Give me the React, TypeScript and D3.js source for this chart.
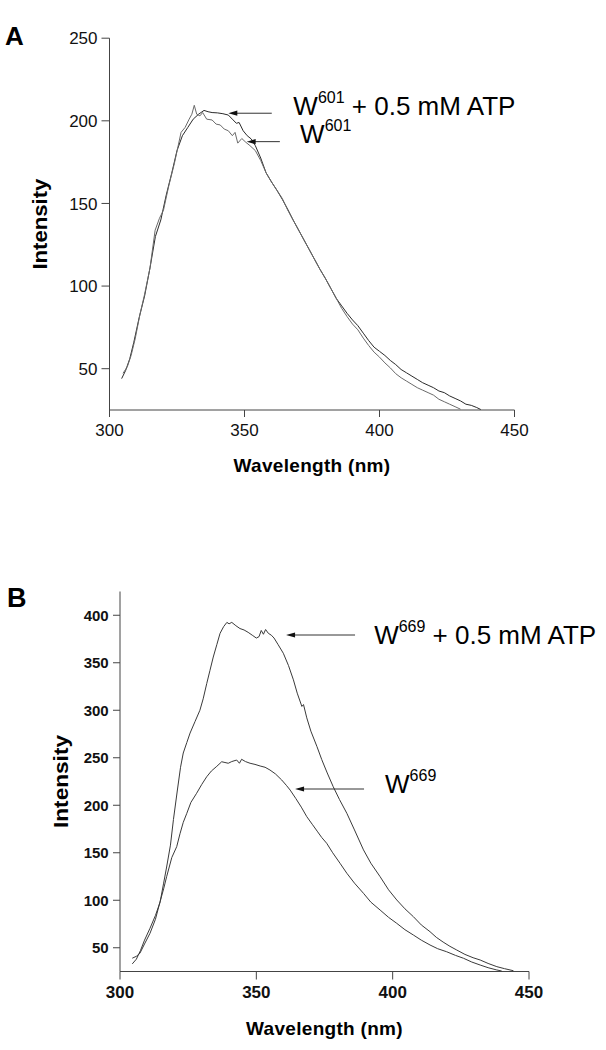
import React from 'react';
import * as d3 from 'd3';

// ---------- data ----------
const xTicks = [300, 350, 400, 450];
const yTicksA = [50, 100, 150, 200, 250];
const yTicksB = [50, 100, 150, 200, 250, 300, 350, 400];

// Panel A: W601 + 0.5 mM ATP
const aAtp: [number, number][] = [
  [304.5, 44], [306, 49], [307.5, 56], [309, 66], [311, 81], [313, 94], [315, 111], [317, 130],
  [319, 140], [321, 155], [323, 168], [325, 182], [327, 191], [329, 196], [331, 201], [333, 204],
  [335, 206.3], [336.5, 205.5], [338, 205], [340, 204.8], [342, 204.3], [344, 203.5], [345.5, 201],
  [347, 198.5], [348, 199], [349.5, 194], [351, 191], [352.5, 189], [354, 185], [356, 177.5],
  [358, 168.5], [360, 163], [362, 158], [364, 152.5], [366, 146.5], [368, 140], [370, 134],
  [372, 128], [374, 122], [376, 116], [378, 110], [380, 104.5], [382, 98.5], [384, 92.5],
  [386, 88], [388, 83.5], [390, 79.5], [392, 76], [394, 71.5], [396, 67], [398, 63], [400, 60.5],
  [402, 58], [404, 55], [406, 52.5], [408, 49.5], [410, 47.5], [412, 45.5], [414, 43.5],
  [416, 41.5], [418, 40], [420, 38.5], [422, 36.5], [424, 35.5], [426, 33.5], [428, 32],
  [430, 30.5], [432, 28.5], [434, 27.8], [436, 26.5], [437.5, 25.3],
];
// Panel A: W601
const aW: [number, number][] = [
  [305, 47.2], [306.6, 51.2], [308, 58], [309.5, 68], [311.3, 83], [313, 95], [315, 111],
  [316.9, 133.8], [318.5, 141], [320, 146], [322, 161], [324, 174], [326.5, 193], [328, 196],
  [329.5, 201], [330.5, 204], [331.4, 209.4], [332.3, 204], [333.5, 203], [334.5, 205], [336, 201],
  [338, 200.5], [339.5, 198], [341, 197.5], [342.5, 195], [344, 194], [345.5, 191], [346.5, 193],
  [347.5, 186.5], [349, 189.3], [350.5, 187], [352, 185], [354, 182], [356, 176], [358, 168.5],
  [360, 163], [362, 158], [364, 153], [366, 146], [368, 140], [370, 134], [372, 128], [374, 122],
  [376, 116], [378, 110], [380, 104.5], [382, 98.5], [384, 92.5], [386, 86.5], [388, 81.5],
  [390, 77], [392, 73.5], [394, 68.5], [396, 64], [398, 60], [400, 57], [402, 53.5], [404, 50.5],
  [406, 47], [408, 44.5], [410, 42.5], [412, 40.5], [414, 38.5], [416, 37], [418, 35.5],
  [420, 34], [422, 31.5], [424, 30], [426, 28.5], [428, 27], [430, 25.5],
];
// Panel B: W669 + 0.5 mM ATP
const bAtp: [number, number][] = [
  [304.5, 33], [306, 38], [307.5, 47], [309, 58], [311, 70.5], [313, 84], [314.7, 98], [316, 118],
  [317.1, 135], [318.5, 158], [319.6, 185], [321, 215], [322.2, 240], [323.2, 255], [324.5, 266],
  [325.7, 276], [327.5, 288], [329.3, 300], [330.5, 312], [331.8, 328], [333, 342], [334.2, 356],
  [335.5, 369], [336.7, 381], [338, 388], [339.2, 392.5], [340, 391], [341, 392.5], [342.5, 389],
  [344, 386], [345.5, 384.5], [347, 382], [348.5, 379], [350, 376], [351, 377.5], [351.8, 384],
  [352.6, 380], [353.4, 385], [354.4, 381], [355.5, 379], [356.5, 376], [358, 369], [359.9, 360],
  [361.8, 347], [363.6, 332], [365, 318], [366.7, 304], [367.3, 306], [368.5, 292], [370, 278],
  [372.2, 262], [374, 248], [376, 234], [378.2, 219.5], [380.5, 206], [383.2, 191.5], [386, 174],
  [389.3, 153], [392, 139], [395.4, 124.8], [398.5, 111], [401.5, 100.3], [404.5, 91],
  [407.6, 82.7], [410.5, 74], [413.7, 66.9], [416, 61], [418.5, 56], [421, 51.5], [423.5, 47.6],
  [426.5, 43], [429.5, 39.5], [432.1, 37.1], [435, 33.5], [438.2, 30.1], [441, 28], [444.3, 25.8],
];
// Panel B: W669
const bW: [number, number][] = [
  [304.5, 39], [306, 41], [307.3, 44.2], [309, 54], [311, 65.2], [313, 80], [314.7, 98.5],
  [316, 112], [317.1, 124.8], [319, 145], [320.8, 156.4], [322, 170], [323.2, 182], [324.5, 191.5],
  [326, 203], [328.1, 212.6], [330, 222], [331.8, 230], [333.5, 236], [335.5, 241], [337.3, 245.8],
  [338.5, 245], [339.7, 244.2], [341, 246], [342.8, 247.6], [343.8, 244.2], [344.6, 248.4],
  [346, 246], [347.7, 244.2], [349.5, 243], [351.4, 241.3], [353.2, 240], [355, 237.1], [357, 233],
  [359.3, 226.6], [361, 221], [362.4, 216], [364.5, 207], [366.5, 198], [368.5, 188], [370.5, 180],
  [372.5, 172], [374, 166], [375.8, 160], [378, 150], [380.7, 138.9], [383.2, 128.4], [386, 118],
  [389.3, 107.3], [392, 98], [395.4, 89.7], [398.5, 82], [401.5, 75.7], [404.5, 69], [407.6, 63.4],
  [410.5, 58], [413.7, 52.9], [416.5, 49], [419.8, 45.8], [423, 42], [426, 38.9], [429, 35],
  [432.1, 31.8], [435, 29], [438.2, 26.6], [440, 25.5],
];

// annotations: arrow tip (nm, intensity), arrow tail nm, label anchor (nm, intensity)
const annotationsA = [
  { sup: '601', rest: ' + 0.5 mM ATP', tip: [344.0, 204.6], tail: 360.1, text: [368.1, 203.5] },
  { sup: '601', rest: '', tip: [350.8, 187.4], tail: 363.1, text: [370.6, 186.4] },
];
const annotationsB = [
  { sup: '669', rest: ' + 0.5 mM ATP', tip: [360.9, 379.2], tail: 386.2, text: [393.2, 369.7] },
  { sup: '669', rest: '', tip: [364.2, 217.1], tail: 389.5, text: [397.2, 212.6] },
];

const FONT = "'Liberation Sans', Arial, Helvetica, sans-serif";

type PanelProps = {
  id: string;
  letter: string;
  letterPos: [number, number];
  letterSize: number;
  xRange: [number, number];
  yRange: [number, number];
  yDomain: [number, number];
  yTicks: number[];
  series: { data: [number, number][]; color: string }[];
  annotations: typeof annotationsA;
  tickBold: boolean;
  yTickSize: number;
  yTickGap: number;
  xTickSize: number;
  yTickLen: number;
  xTickLen: number;
  intensityX: number;
  intensityLen: number;
  wavelengthY: number;
};

function Panel(p: PanelProps) {
  const x = d3.scaleLinear().domain([300, 450]).range(p.xRange);
  const y = d3.scaleLinear().domain(p.yDomain).range(p.yRange);
  const line = d3
    .line<[number, number]>()
    .x((d) => x(d[0]))
    .y((d) => y(d[1]));
  const axisColor = '#444';
  const x0 = p.xRange[0];
  const y0 = p.yRange[0];
  const midX = (p.xRange[0] + p.xRange[1]) / 2;
  const midY = (p.yRange[0] + p.yRange[1]) / 2;
  const w = p.tickBold ? 'bold' : 'normal';
  return (
    <g fontFamily={FONT}>
      <text x={p.letterPos[0]} y={p.letterPos[1]} fontSize={p.letterSize} fontWeight="bold" fill="#000">
        {p.letter}
      </text>
      {/* axes */}
      <line x1={x0} x2={x0} y1={p.yRange[0]} y2={p.yRange[1]} stroke={axisColor} strokeWidth={1} />
      <line x1={p.xRange[0]} x2={p.xRange[1]} y1={y0} y2={y0} stroke={axisColor} strokeWidth={1} />
      {p.yTicks.map((t) => (
        <g key={'y' + t}>
          <line x1={x0 - p.yTickLen} x2={x0} y1={y(t)} y2={y(t)} stroke={axisColor} />
          <text
            x={x0 - p.yTickGap}
            y={y(t)}
            dy="0.36em"
            textAnchor="end"
            fontSize={p.yTickSize}
            fontWeight={w}
            fill="#111"
          >
            {t}
          </text>
        </g>
      ))}
      {xTicks.map((t) => (
        <g key={'x' + t}>
          <line x1={x(t)} x2={x(t)} y1={y0} y2={y0 + p.xTickLen} stroke={axisColor} />
          <text x={x(t)} y={y0 + 26} textAnchor="middle" fontSize={p.xTickSize} fontWeight={w} fill="#111">
            {t}
          </text>
        </g>
      ))}
      <text
        transform={`translate(${p.intensityX},${midY}) rotate(-90)`}
        textAnchor="middle"
        fontSize={20}
        fontWeight="bold"
        textLength={p.intensityLen}
        lengthAdjust="spacingAndGlyphs"
        fill="#000"
      >
        Intensity
      </text>
      <text
        x={midX}
        y={p.wavelengthY}
        textAnchor="middle"
        fontSize={19}
        fontWeight="bold"
        letterSpacing={0.3}
        fill="#000"
      >
        Wavelength (nm)
      </text>
      {/* curves */}
      {p.series.map((s, i) => (
        <path key={i} d={line(s.data) || ''} fill="none" stroke={s.color} strokeWidth={1} strokeLinejoin="round" />
      ))}
      {/* annotations */}
      {p.annotations.map((a, i) => {
        const tx = x(a.tip[0]);
        const ty = y(a.tip[1]);
        const tl = x(a.tail);
        return (
          <g key={'a' + i}>
            <line x1={tl} x2={tx + 6} y1={ty} y2={ty} stroke="#333" strokeWidth={1} />
            <path d={`M${tx},${ty} L${tx + 9},${ty - 2.6} L${tx + 9},${ty + 2.6} Z`} fill="#111" />
            <text x={x(a.text[0])} y={y(a.text[1])} fontSize={26} fill="#000">
              W
              <tspan fontSize={16} dy={-12}>
                {a.sup}
              </tspan>
              {a.rest ? <tspan dy={12}>{a.rest}</tspan> : null}
            </text>
          </g>
        );
      })}
    </g>
  );
}

export default function App() {
  return (
    <svg
      width={606}
      height={1050}
      viewBox="0 0 606 1050"
      style={{ position: 'absolute', left: 0, top: 0, background: '#fff' }}
    >
      <rect width={606} height={1050} fill="#fff" />
      <Panel
        id="A"
        letter="A"
        letterPos={[5, 45]}
        letterSize={26}
        xRange={[109.5, 514.5]}
        yRange={[410, 38.2]}
        yDomain={[25, 250]}
        yTicks={yTicksA}
        series={[
          { data: aAtp, color: '#2a2a2a' },
          { data: aW, color: '#6a6a6a' },
        ]}
        annotations={annotationsA}
        tickBold={false}
        yTickSize={17}
        yTickGap={12}
        xTickSize={17}
        yTickLen={8}
        xTickLen={7}
        intensityX={47}
        intensityLen={91}
        wavelengthY={471.5}
      />
      <Panel
        id="B"
        letter="B"
        letterPos={[7, 606.7]}
        letterSize={27}
        xRange={[120, 529]}
        yRange={[971.5, 591.5]}
        yDomain={[25, 425]}
        yTicks={yTicksB}
        series={[
          { data: bAtp, color: '#3a3a3a' },
          { data: bW, color: '#3a3a3a' },
        ]}
        annotations={annotationsB}
        tickBold={true}
        yTickSize={15}
        yTickGap={11.3}
        xTickSize={17}
        yTickLen={7}
        xTickLen={8}
        intensityX={68}
        intensityLen={93}
        wavelengthY={1035}
      />
    </svg>
  );
}
